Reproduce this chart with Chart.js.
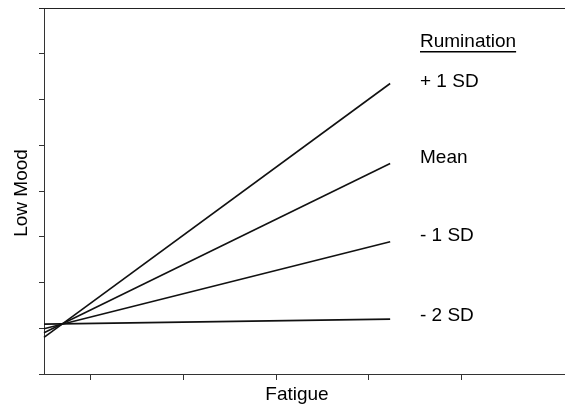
<!DOCTYPE html>
<html lang="en">

<head>
    <meta charset="UTF-8">
    <title>Low Mood by Fatigue and Rumination</title>
    <script src="https://cdn.jsdelivr.net/npm/chart.js"></script>
    <style>
        html, body {
            margin: 0;
            padding: 0;
            background: #fff;
        }

        #wrap {
            width: 565px;
            height: 408px;
        }
    </style>
</head>

<body>
    <div id="wrap"><canvas id="moodChart" width="565" height="408"></canvas></div>
    <script>
        // fatigue values at the two ends of each simple slope
        const fatigueX = [-0.5, 3.23];
        const seriesNames = ['+ 1 SD', 'Mean', '- 1 SD', '- 2 SD'];
        const plus1SD = [0.80, 6.35];
        const meanRum = [0.90, 4.60];
        const minus1SD = [0.99, 2.89];
        const minus2SD = [1.09, 1.20];
        const xTicks = [0, 1, 2, 3, 4];
        const yTicks = [0, 1, 2, 3, 4, 5, 6, 7, 8];

        const FONT = '19px "Liberation Sans", Arial, sans-serif';

        function toPoints(ys) {
            return fatigueX.map((x, i) => ({ x: x, y: ys[i] }));
        }

        const textPlugin = {
            id: 'texts',
            afterDraw(chart) {
                const ctx = chart.ctx;
                const area = chart.chartArea;
                ctx.save();
                ctx.fillStyle = '#000';
                ctx.font = FONT;

                // top edge line
                ctx.strokeStyle = '#222';
                ctx.lineWidth = 1;
                ctx.beginPath();
                ctx.moveTo(39, area.top + 0.5);
                ctx.lineTo(area.right, area.top + 0.5);
                ctx.stroke();

                // legend heading, underlined
                ctx.textBaseline = 'middle';
                ctx.textAlign = 'left';
                ctx.fillText('Rumination', 420, 42);
                const w = ctx.measureText('Rumination').width;
                ctx.fillRect(420, 51, w, 1.5);

                const labelY = [82, 158, 236, 316];
                seriesNames.forEach((name, i) => ctx.fillText(name, 420, labelY[i]));

                // axis titles
                ctx.textAlign = 'center';
                ctx.fillText('Fatigue', 297, 395);
                ctx.translate(22, 193);
                ctx.rotate(-Math.PI / 2);
                ctx.fillText('Low Mood', 0, 0);
                ctx.restore();
            }
        };

        const lineStyle = { borderColor: '#111', borderWidth: 1.6, pointRadius: 0, fill: false, clip: false, tension: 0 };

        new Chart(document.getElementById('moodChart'), {
            type: 'line',
            data: {
                datasets: [
                    { label: seriesNames[0], data: toPoints(plus1SD), ...lineStyle },
                    { label: seriesNames[1], data: toPoints(meanRum), ...lineStyle },
                    { label: seriesNames[2], data: toPoints(minus1SD), ...lineStyle },
                    { label: seriesNames[3], data: toPoints(minus2SD), ...lineStyle }
                ]
            },
            options: {
                responsive: false,
                animation: false,
                layout: { padding: { left: 39, top: 8, right: 0, bottom: 28 } },
                plugins: {
                    legend: { display: false },
                    tooltip: { enabled: false }
                },
                scales: {
                    x: {
                        type: 'linear',
                        min: -0.5,
                        max: 5.114,
                        afterBuildTicks: s => { s.ticks = xTicks.map(v => ({ value: v })); },
                        ticks: { display: false },
                        grid: { drawOnChartArea: false, drawTicks: true, tickLength: 6, color: '#333' },
                        border: { display: true, color: '#333', width: 1 }
                    },
                    y: {
                        type: 'linear',
                        min: 0,
                        max: 8,
                        afterBuildTicks: s => { s.ticks = yTicks.map(v => ({ value: v })); },
                        ticks: { display: false },
                        grid: { drawOnChartArea: false, drawTicks: true, tickLength: 5, color: '#333' },
                        border: { display: true, color: '#333', width: 1 }
                    }
                }
            },
            plugins: [textPlugin]
        });
    </script>
</body>

</html>
